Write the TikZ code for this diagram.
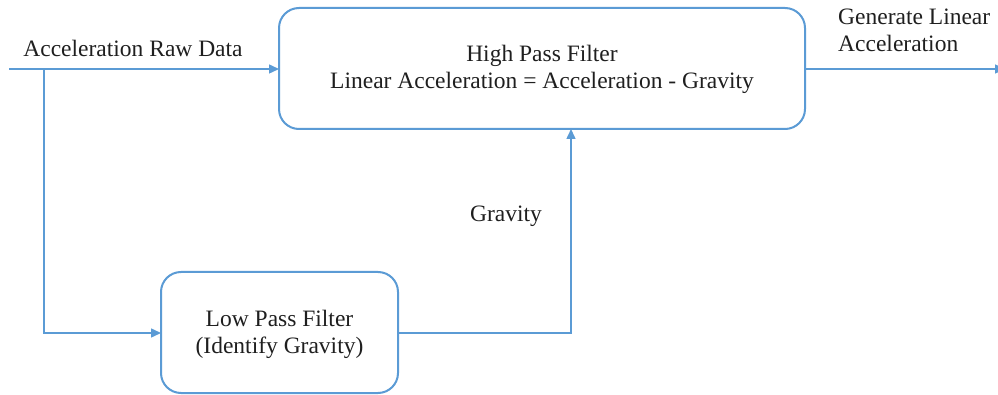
\documentclass[tikz,border=0pt]{standalone}
\usepackage{fontspec}
\newfontfamily\serifface{Liberation Serif}
\usetikzlibrary{arrows.meta}
\definecolor{flowblue}{HTML}{5B9BD5}
\begin{document}
\begin{tikzpicture}[x=1pt,y=-1pt,
  box/.style={draw=flowblue,line width=2pt,rounded corners=20pt,fill=white},
  txt/.style={font=\serifface\fontsize{23.5}{27}\selectfont,text=black!88,inner sep=0pt},
  flow/.style={draw=flowblue,line width=1.5pt},
  arr/.style={flow,-{Triangle[length=10pt,width=9pt]}}]
  \useasboundingbox (0,0) rectangle (998,395);
  % filter blocks
  \draw[box] (279,8) rectangle (805,129);
  \node[txt,align=center] (hp) at (542,69) {High Pass Filter\\Linear Acceleration = Acceleration - Gravity};
  \coordinate (hpw) at (279,69);
  \coordinate (hpe) at (805,69);
  \coordinate (hps) at (571,129);
  \draw[box] (161,272) rectangle (398,393);
  \node[txt,align=center] (lp) at (279.5,334) {Low Pass Filter\\(Identify Gravity)};
  \coordinate (lpw) at (161,333);
  \coordinate (lpe) at (398,333);
  % signal paths
  \coordinate (in) at (9,69);
  \coordinate (split) at (44,69);
  \coordinate (out) at (1005,69);
  \draw[arr] (in) -- (hpw);
  \draw[arr] (split) |- (lpw);
  \draw[arr] (lpe) -| (hps);
  \draw[arr] (hpe) -- (out);
  % labels
  \node[txt,anchor=base] (rawlbl) at (133,57) {Acceleration Raw Data};
  \node[txt,anchor=base west,align=left] (outlbl) at (838,52) {Generate Linear\\Acceleration};
  \node[txt,anchor=base] (glbl) at (506,222) {Gravity};
\end{tikzpicture}
\end{document}
